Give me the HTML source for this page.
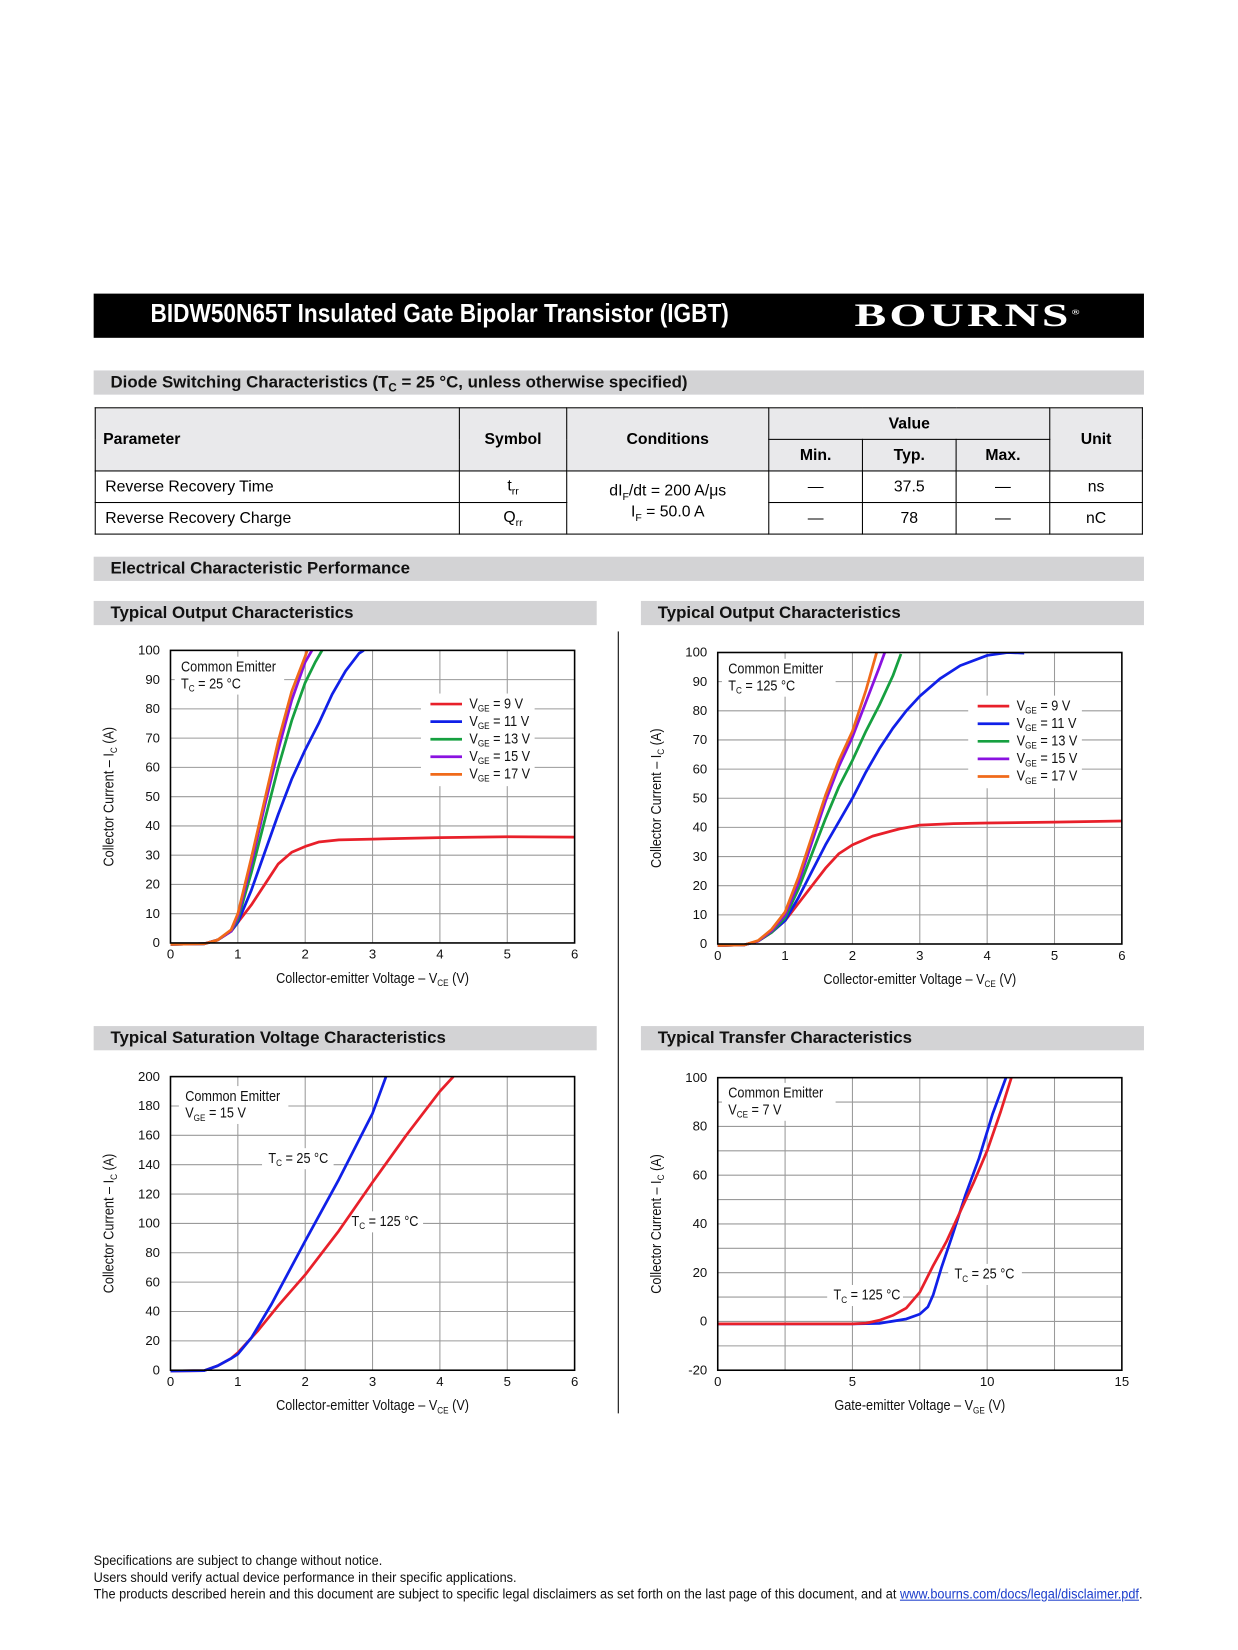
<!DOCTYPE html>
<html><head><meta charset="utf-8">
<style>
html,body{margin:0;padding:0;background:#fff;}
body{width:1238px;height:1650px;overflow:hidden;position:relative;}
#wrap{position:absolute;left:0;top:0;width:1176px;height:1568px;transform:scale(1.0524);transform-origin:0 0;font-family:"Liberation Sans",sans-serif;}
.abs{position:absolute;}
.bar{position:absolute;background:#d3d3d5;font-weight:bold;font-size:16px;color:#111;box-sizing:border-box;padding-left:16px;}
table{border-collapse:collapse;position:absolute;left:90px;top:387px;width:996px;font-size:15px;}
td{border:1px solid #000;height:29px;padding:0;text-align:center;}
.h td{background:#e9e9eb;font-weight:bold;}
</style></head><body>
<div id="wrap">
<div class="abs" style="left:89px;top:279px;width:998px;height:42px;background:#000;"></div>
<div class="abs" style="left:143px;top:284px;color:#fff;font-weight:bold;font-size:25px;white-space:nowrap;transform:scaleX(0.86);transform-origin:0 0;">BIDW50N65T Insulated Gate Bipolar Transistor (IGBT)</div>
<div class="abs" style="left:812px;top:282px;color:#fff;font-family:'Liberation Serif',serif;font-weight:bold;font-size:31px;letter-spacing:2px;white-space:nowrap;transform:scaleX(1.46);transform-origin:0 0;">BOURNS<sup style="font-size:7px">®</sup></div>

<div class="bar" style="left:89px;top:352px;width:998px;height:23px;line-height:23px;">Diode Switching Characteristics (T<sub style="font-size:11px">C</sub> = 25 °C, unless otherwise specified)</div>

<table>
<tr class="h"><td rowspan="2" style="width:338px;text-align:left;padding-left:7px;">Parameter</td><td rowspan="2" style="width:101px;">Symbol</td><td rowspan="2" style="width:191px;">Conditions</td><td colspan="3">Value</td><td rowspan="2">Unit</td></tr>
<tr class="h"><td style="width:88px;">Min.</td><td style="width:88px;">Typ.</td><td style="width:88px;">Max.</td></tr>
<tr><td style="text-align:left;padding-left:9px;">Reverse Recovery Time</td><td>t<sub style="font-size:10px">rr</sub></td><td rowspan="2">dI<sub style="font-size:10px">F</sub>/dt = 200 A/μs<br>I<sub style="font-size:10px">F</sub> = 50.0 A</td><td>—</td><td>37.5</td><td>—</td><td>ns</td></tr>
<tr><td style="text-align:left;padding-left:9px;">Reverse Recovery Charge</td><td>Q<sub style="font-size:10px">rr</sub></td><td>—</td><td>78</td><td>—</td><td>nC</td></tr>
</table>

<div class="bar" style="left:89px;top:529px;width:998px;height:23px;line-height:23px;">Electrical Characteristic Performance</div>
<div class="bar" style="left:89px;top:571px;width:478px;height:23px;line-height:23px;">Typical Output Characteristics</div>
<div class="bar" style="left:609px;top:571px;width:478px;height:23px;line-height:23px;">Typical Output Characteristics</div>
<div class="bar" style="left:89px;top:975px;width:478px;height:23px;line-height:23px;">Typical Saturation Voltage Characteristics</div>
<div class="bar" style="left:609px;top:975px;width:478px;height:23px;line-height:23px;">Typical Transfer Characteristics</div>
<div class="abs" style="left:587px;top:600px;width:1px;height:743px;background:#000;"></div>

<svg id="charts" class="abs" style="left:0;top:0;" width="1176" height="1568"></svg>

<div class="abs" style="left:89px;top:1475px;font-size:13px;line-height:16px;color:#111;white-space:nowrap;transform:scaleX(0.93);transform-origin:0 0;">Specifications are subject to change without notice.<br>Users should verify actual device performance in their specific applications.<br>The products described herein and this document are subject to specific legal disclaimers as set forth on the last page of this document, and at <span style="color:#1a3ccc;text-decoration:underline;">www.bourns.com/docs/legal/disclaimer.pdf</span>.</div>
</div>

<script>
// ---- Chart 1: output 25C ----
const c1X9=[0,0.5,0.7,0.9,1,1.2,1.4,1.6,1.8,2,2.2,2.5,3,4,5,6];
const c1Y9=[-0.5,-0.3,1,4,7,13,20,27,31,33,34.5,35.2,35.5,36,36.3,36.2];
const c1X11=[0,0.5,0.7,0.9,1,1.2,1.4,1.6,1.8,2,2.2,2.4,2.6,2.8,2.87];
const c1Y11=[-0.5,-0.3,1,4,7,18,31,44,56,66,75,85,93,99,100];
const c1X13=[0,0.5,0.7,0.9,1,1.2,1.4,1.6,1.8,2,2.15,2.25];
const c1Y13=[-0.5,-0.3,1,4,8,24,42,60,76,89,96,100];
const c1X15=[0,0.5,0.7,0.9,1,1.2,1.4,1.6,1.8,2,2.1];
const c1Y15=[-0.5,-0.3,1,4,9,27,47,66,83,96,100];
const c1X17=[0,0.5,0.7,0.9,1,1.2,1.4,1.6,1.8,2,2.03];
const c1Y17=[-0.5,-0.3,1,4.5,10,29,49,69,86,98,100];
// ---- Chart 2: output 125C ----
const c2X9=[0,0.4,0.6,0.8,1,1.2,1.4,1.6,1.8,2,2.3,2.7,3,3.5,4,5,6];
const c2Y9=[-0.5,-0.3,1,4,8,14,20,26,31,34,37,39.5,40.8,41.3,41.5,41.8,42.2];
const c2X11=[0,0.4,0.6,0.8,1,1.2,1.4,1.6,1.8,2,2.2,2.4,2.6,2.8,3,3.3,3.6,4,4.3,4.55];
const c2Y11=[-0.5,-0.3,1,4,8,16,25,34,42,50,59,67,74,80,85,91,95.5,99,100,99.8];
const c2X13=[0,0.4,0.6,0.8,1,1.2,1.4,1.6,1.8,2,2.2,2.4,2.6,2.72];
const c2Y13=[-0.5,-0.3,1,4,9,19,31,43,54,63,73,82,92,99.5];
const c2X15=[0,0.4,0.6,0.8,1,1.2,1.4,1.6,1.8,2,2.2,2.4,2.48];
const c2Y15=[-0.5,-0.3,1,4.5,10,21,35,49,61,71,83,95,100];
const c2X17=[0,0.4,0.6,0.8,1,1.2,1.4,1.6,1.8,2,2.2,2.36];
const c2Y17=[-0.5,-0.3,1.2,5,11,23,37,51,63,73,87,100];
// ---- Chart 3: saturation ----
const c3X25=[0,0.5,0.7,0.9,1,1.2,1.5,2,2.5,3,3.2];
const c3Y25=[-0.5,-0.3,3,8,11,22,45,88,130,175,200];
const c3X125=[0,0.5,0.7,0.9,1,1.3,1.6,2,2.5,3,3.5,4,4.2];
const c3Y125=[-0.5,-0.3,3,8,12,27,44,65,95,128,160,190,200];
// ---- Chart 4: transfer ----
const c4X25=[0,5,6,7,7.5,7.8,8,8.3,8.7,9.2,9.7,10.2,10.7];
const c4Y25=[-1,-1,-0.8,1,3,6,11,22,35,52,67,85,100];
const c4X125=[0,5,5.5,6,6.5,7,7.5,8,8.5,9,9.5,10,10.5,10.9];
const c4Y125=[-1,-1,-0.7,0.5,2.5,5.5,12,23,33,45,57,70,86,100];
// tick labels
const outXTicks=[0,1,2,3,4,5,6];
const outYTicks=[0,10,20,30,40,50,60,70,80,90,100];
const satYTicks=[0,20,40,60,80,100,120,140,160,180,200];
const trXTicks=[0,5,10,15];
const trYTicks=[-20,0,20,40,60,80,100];
const legendLabels=['9 V','11 V','13 V','15 V','17 V'];

const NS='http://www.w3.org/2000/svg';
const svg=document.getElementById('charts');
const FN='"Liberation Sans",sans-serif';
function mk(tag,attrs,parent){const e=document.createElementNS(NS,tag);for(const k in attrs)e.setAttribute(k,attrs[k]);(parent||svg).appendChild(e);return e;}
function sub(t,main,s){const a=document.createElementNS(NS,'tspan');a.textContent=main;t.appendChild(a);const b=document.createElementNS(NS,'tspan');b.setAttribute('font-size','9');b.setAttribute('dy','3');b.textContent=s;t.appendChild(b);return b;}
function after(t,txt){const c=document.createElementNS(NS,'tspan');c.setAttribute('dy','-3');c.textContent=txt;t.appendChild(c);}
function chart(o){
  const g=mk('g',{});
  
  
  const sx=v=>o.L+(v-o.x0)/(o.x1-o.x0)*(o.R-o.L);
  const sy=v=>o.B-(v-o.y0)/(o.y1-o.y0)*(o.B-o.T);
  for(let v=o.x0+o.gx;v<o.x1-1e-9;v+=o.gx){const l=mk('line',{x1:sx(v),x2:sx(v),y1:o.T,y2:o.B,stroke:'#9a9a9a','stroke-width':1},g);}
  for(let v=o.y0+o.gy;v<o.y1-1e-9;v+=o.gy){const l=mk('line',{x1:o.L,x2:o.R,y1:sy(v),y2:sy(v),stroke:'#9a9a9a','stroke-width':1},g);}
  o.xt.forEach(v=>{const t=mk('text',{x:sx(v),y:o.B+15,'text-anchor':'middle','font-size':12.5,'font-family':FN,fill:'#111'},g);t.textContent=v;});
  o.yt.forEach(v=>{const t=mk('text',{x:o.L-10,y:sy(v)+4,'text-anchor':'end','font-size':12.5,'font-family':FN,fill:'#111'},g);t.textContent=v;});
  const xt=mk('text',{x:0,y:0,'text-anchor':'middle','font-size':14,'font-family':FN,fill:'#111',transform:`translate(${(o.L+o.R)/2},${o.B+38}) scale(0.86,1)`},g);
  
  sub(xt,o.xtitle,o.xsub);after(xt,' (V)');
  const yt=mk('text',{x:0,y:0,'text-anchor':'middle','font-size':14,'font-family':FN,fill:'#111',transform:`translate(${o.L-54},${(o.T+o.B)/2}) rotate(-90) scale(0.86,1)`},g);
  
  sub(yt,'Collector Current – I','C');after(yt,' (A)');
  (o.notes||[]).forEach(n=>{const r=mk('rect',{x:n.x-6,y:n.y-14,width:n.w,height:n.h,fill:'#fff'},g);
    n.lines.forEach((ln,i)=>{const t=mk('text',{x:0,y:0,'font-size':14,'font-family':FN,fill:'#111',transform:`translate(${n.x},${n.y+i*16}) scale(0.86,1)`},g);if(ln.s){sub(t,ln.m,ln.s);after(t,ln.a);}else t.textContent=ln.m;});});
  const cid='clip'+o.name;
  const cp=mk('clipPath',{id:cid},g);mk('rect',{x:o.L-3,y:o.T,width:o.R-o.L+6,height:o.B-o.T+4},cp);
  o.series.forEach(s=>{let d='';s.x.forEach((v,i)=>{d+=(i?'L':'M')+sx(v).toFixed(1)+','+sy(s.y[i]).toFixed(1);});
    const p=mk('path',{d:d,fill:'none',stroke:s.c,'stroke-width':2.6,'stroke-linejoin':'round','clip-path':`url(#${cid})`},g);
    });
  if(o.legend){const lg=o.legend;const r=mk('rect',{x:lg.x-9,y:lg.y-14,width:108,height:88,fill:'#fff'},g);
    o.series.forEach((s,i)=>{const yy=lg.y+i*16.7;const l=mk('line',{x1:lg.x,x2:lg.x+30,y1:yy-4,y2:yy-4,stroke:s.c,'stroke-width':2.6},g);
      const t=mk('text',{x:0,y:0,'font-size':14,'font-family':FN,fill:'#111',transform:`translate(${lg.x+37},${yy}) scale(0.86,1)`},g);sub(t,'V','GE');after(t,' = '+legendLabels[i]);});}
  const fr=mk('rect',{x:o.L,y:o.T,width:o.R-o.L,height:o.B-o.T,fill:'none',stroke:'#000','stroke-width':1.5},g);
  
}
const cols=['#e8202a','#1020e8','#16a040','#8a12e0','#f06a1a'];
chart({name:'output-25c-chart',L:162,T:618,R:546,B:896,x0:0,x1:6,y0:0,y1:100,gx:1,gy:10,xt:outXTicks,yt:outYTicks,xtitle:'Collector-emitter Voltage – V',xsub:'CE',
  notes:[{x:172,y:638,w:104,h:36,lines:[{m:'Common Emitter'},{m:'T',s:'C',a:' = 25 °C'}]}],legend:{x:409,y:673},
  series:[{x:c1X9,y:c1Y9,c:cols[0],n:'vge-9v-line'},{x:c1X11,y:c1Y11,c:cols[1],n:'vge-11v-line'},{x:c1X13,y:c1Y13,c:cols[2],n:'vge-13v-line'},{x:c1X15,y:c1Y15,c:cols[3],n:'vge-15v-line'},{x:c1X17,y:c1Y17,c:cols[4],n:'vge-17v-line'}]});
chart({name:'output-125c-chart',L:682,T:620,R:1066,B:897,x0:0,x1:6,y0:0,y1:100,gx:1,gy:10,xt:outXTicks,yt:outYTicks,xtitle:'Collector-emitter Voltage – V',xsub:'CE',
  notes:[{x:692,y:640,w:108,h:36,lines:[{m:'Common Emitter'},{m:'T',s:'C',a:' = 125 °C'}]}],legend:{x:929,y:675},
  series:[{x:c2X9,y:c2Y9,c:cols[0],n:'vge-9v-line'},{x:c2X11,y:c2Y11,c:cols[1],n:'vge-11v-line'},{x:c2X13,y:c2Y13,c:cols[2],n:'vge-13v-line'},{x:c2X15,y:c2Y15,c:cols[3],n:'vge-15v-line'},{x:c2X17,y:c2Y17,c:cols[4],n:'vge-17v-line'}]});
chart({name:'saturation-chart',L:162,T:1023,R:546,B:1302,x0:0,x1:6,y0:0,y1:200,gx:1,gy:20,xt:outXTicks,yt:satYTicks,xtitle:'Collector-emitter Voltage – V',xsub:'CE',
  notes:[{x:176,y:1046,w:104,h:36,lines:[{m:'Common Emitter'},{m:'V',s:'GE',a:' = 15 V'}]},{x:255,y:1105,w:68,h:20,lines:[{m:'T',s:'C',a:' = 25 °C'}]},{x:334,y:1165,w:74,h:20,lines:[{m:'T',s:'C',a:' = 125 °C'}]}],
  series:[{x:c3X125,y:c3Y125,c:cols[0],n:'tc-125c-line'},{x:c3X25,y:c3Y25,c:cols[1],n:'tc-25c-line'}]});
chart({name:'transfer-chart',L:682,T:1024,R:1066,B:1302,x0:0,x1:15,y0:-20,y1:100,gx:2.5,gy:10,xt:trXTicks,yt:trYTicks,xtitle:'Gate-emitter Voltage – V',xsub:'GE',
  notes:[{x:692,y:1043,w:108,h:36,lines:[{m:'Common Emitter'},{m:'V',s:'CE',a:' = 7 V'}]},{x:792,y:1235,w:72,h:20,lines:[{m:'T',s:'C',a:' = 125 °C'}]},{x:907,y:1215,w:70,h:20,lines:[{m:'T',s:'C',a:' = 25 °C'}]}],
  series:[{x:c4X25,y:c4Y25,c:cols[1],n:'tc-25c-line'},{x:c4X125,y:c4Y125,c:cols[0],n:'tc-125c-line'}]});
</script>
</body></html>
